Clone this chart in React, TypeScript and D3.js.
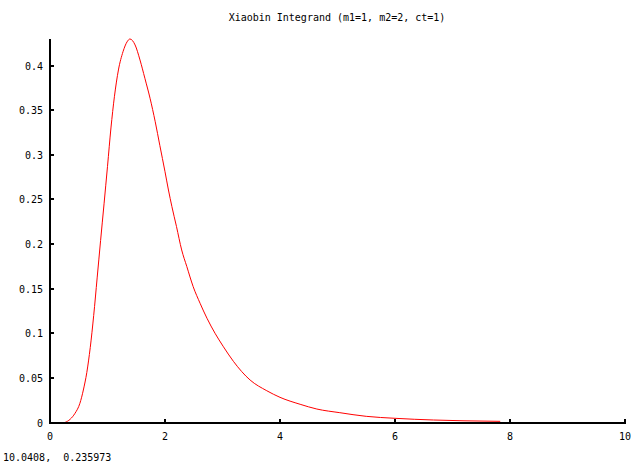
import React, { useEffect, useRef } from 'react';
import * as d3 from 'd3';

const WIDTH = 640;
const HEIGHT = 463;

const titleText = 'Xiaobin Integrand (m1=1, m2=2, ct=1)';
const statusText = '10.0408,  0.235973';

const xTicks = [0, 2, 4, 6, 8, 10];
const yTicks = [0, 0.05, 0.1, 0.15, 0.2, 0.25, 0.3, 0.35, 0.4];

// values
const xValues = [
  0.26, 0.35, 0.435, 0.52, 0.58, 0.64, 0.7, 0.76, 0.82, 0.88, 0.94, 1.0, 1.06, 1.12, 1.19,
  1.27, 1.34, 1.39, 1.48, 1.565, 1.65, 1.74, 1.83, 1.91, 2.0, 2.06, 2.12, 2.2, 2.29, 2.38,
  2.49, 2.61, 2.73, 2.87, 3.01, 3.19, 3.48, 3.77, 4.0, 4.35, 4.64, 5.04, 5.5, 6.0, 6.67,
  7.2, 7.83,
];
const yValues = [
  0.0, 0.0036, 0.0103, 0.0215, 0.0364, 0.056, 0.084, 0.12, 0.162, 0.204, 0.245, 0.287, 0.33, 0.365, 0.395,
  0.4155, 0.4265, 0.4297, 0.423, 0.4062, 0.3857, 0.3633, 0.337, 0.3105, 0.281, 0.2605, 0.2419, 0.2195, 0.1933, 0.1746,
  0.1522, 0.1336, 0.1168, 0.1, 0.0855, 0.0685, 0.0476, 0.0356, 0.0282, 0.0204, 0.0151, 0.011, 0.0069, 0.0047, 0.0028,
  0.0019, 0.0013,
];

const XiaobinChart: React.FC = () => {
  const svgRef = useRef<SVGSVGElement>(null);

  useEffect(() => {
    if (!svgRef.current) return;
    const svg = d3.select(svgRef.current);
    svg.selectAll('*').remove();

    const font = "'DejaVu Sans Mono', monospace";

    const x = d3.scaleLinear().domain([0, 10]).range([50, 625]);
    const y = d3.scaleLinear().domain([0, 0.4]).range([422.5, 65.5]);
    const yTop = y(0.43);

    // Title
    svg.append('text')
      .attr('x', 337)
      .attr('y', 21)
      .attr('text-anchor', 'middle')
      .attr('font-family', font)
      .attr('font-size', 10)
      .attr('fill', '#000')
      .text(titleText);

    // Curve
    const pts = xValues.map((v, i) => [v, yValues[i]] as [number, number]);
    const line = d3.line<[number, number]>()
      .x(d => x(d[0]))
      .y(d => y(d[1]))
      .curve(d3.curveMonotoneX);

    svg.append('path')
      .datum(pts)
      .attr('d', line)
      .attr('fill', 'none')
      .attr('stroke', '#ff0000')
      .attr('stroke-width', 1);

    // Axes
    const axes = svg.append('g').attr('shape-rendering', 'crispEdges');
    axes.append('line')
      .attr('x1', x(0)).attr('x2', x(0))
      .attr('y1', y(0) + 1).attr('y2', yTop)
      .attr('stroke', '#000').attr('stroke-width', 2);
    axes.append('line')
      .attr('x1', x(0) - 1).attr('x2', x(10) + 1)
      .attr('y1', y(0)).attr('y2', y(0))
      .attr('stroke', '#000').attr('stroke-width', 2);

    // Y ticks
    yTicks.forEach(t => {
      axes.append('line')
        .attr('x1', x(0)).attr('x2', x(0) + 4)
        .attr('y1', y(t)).attr('y2', y(t))
        .attr('stroke', '#000').attr('stroke-width', 2);
      svg.append('text')
        .attr('x', 43)
        .attr('y', y(t) + 4)
        .attr('text-anchor', 'end')
        .attr('font-family', font)
        .attr('font-size', 10)
        .text(d3.format('~g')(t));
    });

    // X ticks
    xTicks.forEach(t => {
      if (t !== 0) {
        axes.append('line')
          .attr('x1', x(t)).attr('x2', x(t))
          .attr('y1', y(0)).attr('y2', y(0) - 4)
          .attr('stroke', '#000').attr('stroke-width', 2);
      }
      svg.append('text')
        .attr('x', x(t))
        .attr('y', 440)
        .attr('text-anchor', 'middle')
        .attr('font-family', font)
        .attr('font-size', 10)
        .text(String(t));
    });

    // Status line
    svg.append('text')
      .attr('x', 3)
      .attr('y', 461)
      .attr('font-family', font)
      .attr('font-size', 10)
      .style('white-space', 'pre')
      .text(statusText);
  }, []);

  return (
    <svg
      ref={svgRef}
      width={WIDTH}
      height={HEIGHT}
      style={{ position: 'absolute', left: 0, top: 0, background: '#fff' }}
    />
  );
};

export default function App() {
  return <XiaobinChart />;
}
